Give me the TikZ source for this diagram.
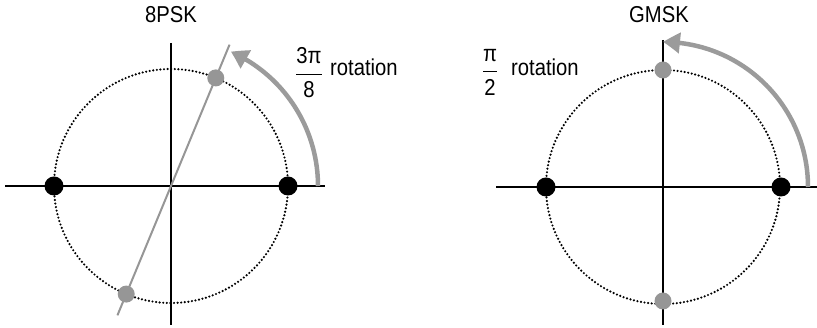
\documentclass[tikz,border=0pt]{standalone}
\usepackage{fontspec}
\usepackage{amsmath}
\setmainfont{Liberation Sans}[FakeStretch=0.88]
\usetikzlibrary{arrows.meta,bending,calc}
\definecolor{dotgrey}{RGB}{150,150,150}
\definecolor{arcgrey}{RGB}{155,155,155}
\newcommand{\myfrac}[2]{\genfrac{}{}{1.3pt}{0}{\text{#1}}{\text{#2}}}
\tikzset{
  axis/.style={line width=2.2pt, black},
  circ/.style={line width=2.4pt, line cap=round, dash pattern=on 0pt off 3.6pt, black},
  bdot/.style={circle, fill=black, minimum size=19pt, inner sep=0pt},
  gdot/.style={circle, fill=dotgrey, minimum size=17pt, inner sep=0pt},
  rotarc/.style={line width=4.5pt, arcgrey, -{Triangle[length=17pt,width=20pt,bend]}},
  phline/.style={line width=2pt, dotgrey},
  lbl/.style={font=\fontsize{23}{27}\selectfont, inner sep=0pt},
}
\begin{document}
\begin{tikzpicture}[x=1pt,y=1pt]
\useasboundingbox (0,0) rectangle (817,328);
% ---------- left: 8PSK ----------
\coordinate (c1) at (171,142);
\coordinate (h1a) at (5,142);
\coordinate (h1b) at (325,142);
\coordinate (v1a) at (171,285);
\coordinate (v1b) at (171,3);
\draw[circ] (c1) circle (117);
\draw[axis] (h1a) -- (h1b);
\draw[axis] (v1a) -- (v1b);
\coordinate (l1a) at ($(c1)+(247.5:140)$);
\coordinate (l1b) at ($(c1)+(67.5:153)$);
\draw[phline] (l1a) -- (l1b);
\node[bdot] (b1r) at ($(c1)+(0:117)$) {};
\node[bdot] (b1l) at ($(c1)+(180:117)$) {};
\node[gdot] (g1t) at ($(c1)+(67.5:117)$) {};
\node[gdot] (g1b) at ($(c1)+(247.5:117)$) {};
\draw[rotarc] ($(c1)+(0:147)$) arc[start angle=0, end angle=66, radius=147];
\node[lbl] (t1) at (171,313) {8PSK};
\node[lbl] (f1) at (309,255) {$\myfrac{3π}{8}$};
\node[lbl, anchor=base west] (r1) at (330,252) {rotation};
% ---------- right: GMSK ----------
\coordinate (c2) at (663,141);
\coordinate (h2a) at (496,141);
\coordinate (h2b) at (817,141);
\coordinate (v2a) at (663,288);
\coordinate (v2b) at (663,3);
\draw[circ] (c2) circle (117);
\draw[axis] (h2a) -- (h2b);
\draw[axis] (v2a) -- (v2b);
\node[bdot] (b2r) at ($(c2)+(0:118)$) {};
\node[bdot] (b2l) at ($(c2)+(180:117)$) {};
\node[gdot] (g2t) at ($(c2)+(90:117)$) {};
\node[gdot] (g2b) at ($(c2)+(270:114)$) {};
\draw[rotarc] ($(c2)+(0:145)$) arc[start angle=0, end angle=90, radius=145];
\node[lbl] (t2) at (659,313) {GMSK};
\node[lbl] (f2) at (490,256) {$\myfrac{π}{2}$};
\node[lbl, anchor=base west] (r2) at (511,252) {rotation};
\end{tikzpicture}
\end{document}
